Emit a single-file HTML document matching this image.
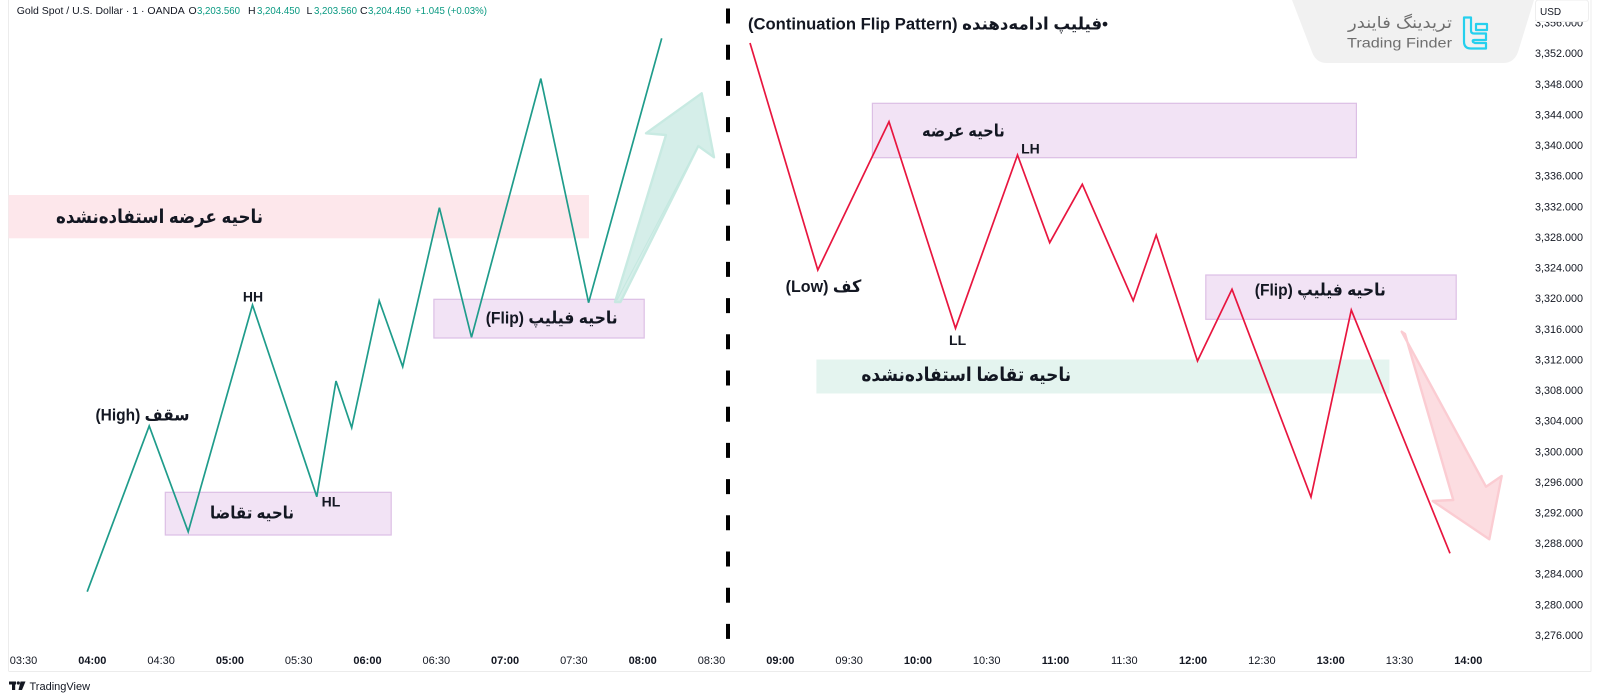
<!DOCTYPE html>
<html>
<head>
<meta charset="utf-8">
<style>
  html,body{margin:0;padding:0;background:#fff;}
  body{width:1600px;height:700px;overflow:hidden;position:relative;}
  svg{position:absolute;left:0;top:0;display:block;}
  .fa{font-family:"Liberation Sans","DejaVu Sans",sans-serif;font-weight:bold;fill:#131722;}
  .ax{font-family:"Liberation Sans",sans-serif;font-size:10.8px;fill:#131722;}
  .tm{font-family:"Liberation Sans",sans-serif;font-size:11px;fill:#131722;}
</style>
</head>
<body>
<svg width="1600" height="700" viewBox="0 0 1600 700" xmlns="http://www.w3.org/2000/svg">
  <rect x="0" y="0" width="1600" height="700" fill="#ffffff"/>

  <!-- pane borders -->
  <line x1="8.5" y1="0" x2="8.5" y2="671" stroke="#ececec" stroke-width="1"/>
  <line x1="8.5" y1="671.5" x2="1591" y2="671.5" stroke="#ececec" stroke-width="1"/>
  <line x1="1591" y1="0" x2="1591" y2="671.5" stroke="#ececec" stroke-width="1"/>

  <!-- logo background -->
  <path d="M1292,0 L1534,0 L1518,52 Q1514,63 1503,63 L1327,63 Q1316,63 1312,52 Z" fill="#f1f1f1"/>
  <text x="1400" y="28" font-family="'Liberation Sans','DejaVu Sans',sans-serif" font-size="16" fill="#6f6f6f" text-anchor="middle" direction="rtl" textLength="104" lengthAdjust="spacingAndGlyphs">تریدینگ فایندر</text>
  <text x="1399.5" y="47.5" font-family="'Liberation Sans',sans-serif" font-size="14" fill="#6f6f6f" text-anchor="middle" textLength="105" lengthAdjust="spacingAndGlyphs">Trading Finder</text>
  <path d="M1464,17.5 h7 v13 q0,3 3,3 h12 v6.5 h-12 q-2,0 -1,2 l2,1 h11 v5.5 h-15 q-7,0 -7,-7 Z" fill="none" stroke="#25d0ee" stroke-width="2.2" stroke-linejoin="round"/>
  <path d="M1476,24 h11 v6 h-11 Z" fill="none" stroke="#25d0ee" stroke-width="2.2" stroke-linejoin="round"/>

  <!-- header -->
  <text x="16.7" y="13.8" font-family="'Liberation Sans',sans-serif" font-size="10.5" fill="#131722">Gold Spot / U.S. Dollar · 1 · OANDA</text>
  <g font-family="'Liberation Sans',sans-serif" font-size="10.5">
    <text x="188.5" y="13.8" fill="#131722">O</text>
    <text x="197" y="13.8" fill="#089981" textLength="43" lengthAdjust="spacingAndGlyphs">3,203.560</text>
    <text x="248" y="13.8" fill="#131722">H</text>
    <text x="257" y="13.8" fill="#089981" textLength="43" lengthAdjust="spacingAndGlyphs">3,204.450</text>
    <text x="306.5" y="13.8" fill="#131722">L</text>
    <text x="314" y="13.8" fill="#089981" textLength="43" lengthAdjust="spacingAndGlyphs">3,203.560</text>
    <text x="360" y="13.8" fill="#131722">C</text>
    <text x="368" y="13.8" fill="#089981" textLength="43" lengthAdjust="spacingAndGlyphs">3,204.450</text>
    <text x="415" y="13.8" fill="#089981" textLength="72" lengthAdjust="spacingAndGlyphs">+1.045 (+0.03%)</text>
  </g>

  <!-- zones left -->
  <rect x="8.5" y="195" width="580.5" height="43.3" fill="#fde7eb"/>
  <rect x="165.3" y="492.3" width="225.9" height="42.7" fill="#f2e3f5" stroke="#dcbfe5" stroke-width="1.2"/>
  <rect x="433.9" y="299.3" width="210.3" height="38.7" fill="#f2e3f5" stroke="#dcbfe5" stroke-width="1.2"/>

  <!-- zones right -->
  <rect x="872.4" y="103.3" width="484" height="54.4" fill="#f2e3f5" stroke="#dcbfe5" stroke-width="1.2"/>
  <rect x="816.4" y="359.5" width="573" height="34" fill="#e4f4ef"/>
  <rect x="1205.8" y="275" width="250.4" height="44.3" fill="#f2e3f5" stroke="#dcbfe5" stroke-width="1.2"/>

  <!-- green arrow -->
  <polygon points="615,302 666,135 646,133.3 701.7,93.3 714,157.3 698.3,146 620.5,302" fill="#d3eee8" stroke="#c6e9e1" stroke-width="2.4" stroke-linejoin="round" opacity="0.95"/>
  <line x1="617" y1="300" x2="698" y2="146" stroke="#c4e8e0" stroke-width="1"/>

  <!-- red arrow -->
  <polygon points="1401.7,331.7 1486,486.7 1501.7,476 1489.3,539.3 1432.7,501 1453.3,500 1405,334" fill="#fcdde1" stroke="#fbccd2" stroke-width="2.4" stroke-linejoin="round"/>

  <!-- dashed separator -->
  <line x1="728" y1="8.5" x2="728" y2="641" stroke="#000" stroke-width="4" stroke-dasharray="15 21.2"/>

  <!-- price lines -->
  <polyline fill="none" stroke="#1f9c8b" stroke-width="1.7" stroke-linejoin="miter"
    points="87.2,591.7 149.2,426 188.2,531.7 252.5,305 316.8,496.7 336,381 351.7,427.7 379.2,300.7 402.7,366.7 439.4,207.7 471.5,337.3 540.8,78.6 588.6,302.7 661.7,38.3"/>
  <polyline fill="none" stroke="#e8163f" stroke-width="1.7" stroke-linejoin="miter"
    points="750,43 817.8,270 889,121.7 955.5,328.3 1017.5,155 1049.7,242.7 1082.3,184.3 1133.2,300.7 1156.2,235 1197.5,361 1232,289.3 1311,497 1351.3,310 1450,553.3"/>

  <!-- labels left -->
  <text class="fa" x="159.5" y="223" font-size="19" text-anchor="middle" direction="rtl" textLength="207" lengthAdjust="spacingAndGlyphs">ناحیه عرضه استفاده‌نشده</text>
  <text class="fa" x="252" y="518.5" font-size="17" text-anchor="middle" direction="rtl" textLength="84" lengthAdjust="spacingAndGlyphs">ناحیه تقاضا</text>
  <text class="fa" x="551.7" y="323.5" font-size="17" text-anchor="middle" direction="rtl" textLength="132" lengthAdjust="spacingAndGlyphs">ناحیه فیلیپ (Flip)</text>
  <text class="fa" x="142.5" y="420.5" font-size="17" text-anchor="middle" direction="rtl" textLength="94" lengthAdjust="spacingAndGlyphs">سقف (High)</text>
  <text class="fa" x="253" y="301.7" font-size="14" text-anchor="middle">HH</text>
  <text class="fa" x="331" y="506.7" font-size="14" text-anchor="middle">HL</text>

  <!-- labels right -->
  <text class="fa" x="928" y="29.5" font-size="17" text-anchor="middle" direction="rtl" textLength="360" lengthAdjust="spacingAndGlyphs">•فیلیپ ادامه‌دهنده (Continuation Flip Pattern)</text>
  <text class="fa" x="963.4" y="136.5" font-size="17" text-anchor="middle" direction="rtl" textLength="82.7" lengthAdjust="spacingAndGlyphs">ناحیه عرضه</text>
  <text class="fa" x="1030.4" y="153.3" font-size="14" text-anchor="middle">LH</text>
  <text class="fa" x="823.5" y="292" font-size="17" text-anchor="middle" direction="rtl" textLength="75.7" lengthAdjust="spacingAndGlyphs">کف (Low)</text>
  <text class="fa" x="957.6" y="345" font-size="14" text-anchor="middle">LL</text>
  <text class="fa" x="966.3" y="381" font-size="19" text-anchor="middle" direction="rtl" textLength="209.8" lengthAdjust="spacingAndGlyphs">ناحیه تقاضا استفاده‌نشده</text>
  <text class="fa" x="1320.3" y="295.5" font-size="17" text-anchor="middle" direction="rtl" textLength="131" lengthAdjust="spacingAndGlyphs">ناحیه فیلیپ (Flip)</text>

  <!-- price axis -->
  <g class="ax" text-anchor="end">
    <text x="1583" y="26.6">3,356.000</text>
    <text x="1583" y="57.2">3,352.000</text>
    <text x="1583" y="87.8">3,348.000</text>
    <text x="1583" y="118.4">3,344.000</text>
    <text x="1583" y="149.1">3,340.000</text>
    <text x="1583" y="179.7">3,336.000</text>
    <text x="1583" y="210.3">3,332.000</text>
    <text x="1583" y="240.9">3,328.000</text>
    <text x="1583" y="271.5">3,324.000</text>
    <text x="1583" y="302.2">3,320.000</text>
    <text x="1583" y="332.8">3,316.000</text>
    <text x="1583" y="363.4">3,312.000</text>
    <text x="1583" y="394">3,308.000</text>
    <text x="1583" y="424.6">3,304.000</text>
    <text x="1583" y="455.3">3,300.000</text>
    <text x="1583" y="485.9">3,296.000</text>
    <text x="1583" y="516.5">3,292.000</text>
    <text x="1583" y="547.1">3,288.000</text>
    <text x="1583" y="577.7">3,284.000</text>
    <text x="1583" y="608.4">3,280.000</text>
    <text x="1583" y="639">3,276.000</text>
  </g>
  <rect x="1535.5" y="0" width="53" height="21.5" rx="3" fill="#ffffff" stroke="#eeeeee" stroke-width="1"/>
  <text x="1540" y="15" font-family="'Liberation Sans',sans-serif" font-size="10" fill="#131722">USD</text>

  <!-- time axis -->
  <g class="tm" text-anchor="middle">
    <text x="23.5" y="664">03:30</text>
    <text x="92.3" y="664" font-weight="bold">04:00</text>
    <text x="161.1" y="664">04:30</text>
    <text x="229.9" y="664" font-weight="bold">05:00</text>
    <text x="298.7" y="664">05:30</text>
    <text x="367.5" y="664" font-weight="bold">06:00</text>
    <text x="436.3" y="664">06:30</text>
    <text x="505.1" y="664" font-weight="bold">07:00</text>
    <text x="573.9" y="664">07:30</text>
    <text x="642.7" y="664" font-weight="bold">08:00</text>
    <text x="711.5" y="664">08:30</text>
    <text x="780.3" y="664" font-weight="bold">09:00</text>
    <text x="849.1" y="664">09:30</text>
    <text x="917.9" y="664" font-weight="bold">10:00</text>
    <text x="986.7" y="664">10:30</text>
    <text x="1055.5" y="664" font-weight="bold">11:00</text>
    <text x="1124.3" y="664">11:30</text>
    <text x="1193.1" y="664" font-weight="bold">12:00</text>
    <text x="1261.9" y="664">12:30</text>
    <text x="1330.7" y="664" font-weight="bold">13:00</text>
    <text x="1399.5" y="664">13:30</text>
    <text x="1468.3" y="664" font-weight="bold">14:00</text>
  </g>

  <!-- TradingView footer -->
  <g fill="#131722">
    <rect x="9" y="681.5" width="7" height="3"/>
    <rect x="12" y="681.5" width="3.2" height="8.5"/>
    <circle cx="18.3" cy="683" r="1.6"/>
    <polygon points="20.5,681.5 25.5,681.5 22,690 18.5,690"/>
  </g>
  <text x="29.5" y="690" font-family="'Liberation Sans',sans-serif" font-size="11" fill="#131722">TradingView</text>
</svg>
</body>
</html>
